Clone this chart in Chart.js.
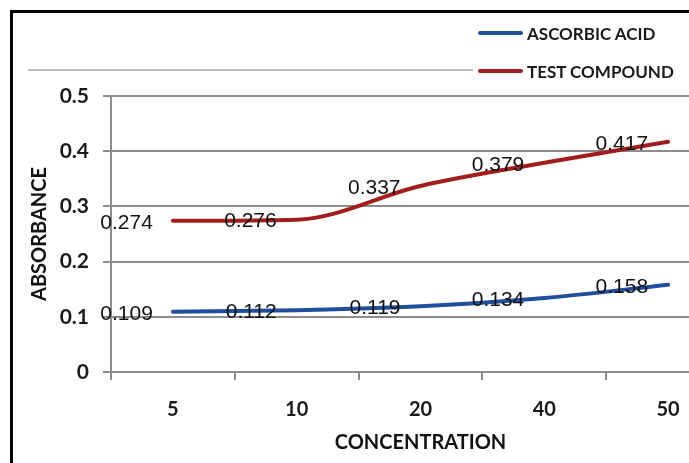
<!DOCTYPE html>
<html>
<head>
<meta charset="utf-8">
<script src="https://cdn.jsdelivr.net/npm/chart.js@4"></script>
<style>
    html, body { margin: 0; padding: 0; background: #fff; overflow: hidden; width: 689px; height: 463px; }
    #wrap { position: absolute; left: 0; top: 0; width: 736px; height: 463px; }
    #frame { position: absolute; left: 10px; top: 10px; width: 800px; height: 600px;
             border-left: 3px solid #000; border-top: 3px solid #000; pointer-events: none; }
    #legend { position: absolute; left: 478px; top: 22px; font: bold 17px Lato, sans-serif; color: #1a1a1a; }
    #legend .row { display: flex; align-items: center; height: 22px; margin-bottom: 16px; white-space: nowrap; }
    #legend .swatch { width: 45px; height: 4px; border-radius: 2px; margin-right: 4px; }
</style>
</head>
<body>
<div id="wrap"><canvas id="chart" width="736" height="463"></canvas></div>
<div id="frame"></div>
<div id="legend"></div>
<script>
// カテゴリ（濃度）
const concentrations = ['5', '10', '20', '40', '50'];

// 系列の値
const ascorbicAcid = [0.109, 0.112, 0.119, 0.134, 0.158];
const testCompound = [0.274, 0.276, 0.337, 0.379, 0.417];

const seriesNames = ['ASCORBIC ACID', 'TEST COMPOUND'];
const seriesColors = ['#1f4e9c', '#a31c1c'];

// 凡例はHTMLで作る
const legendEl = document.getElementById('legend');
seriesNames.forEach((name, i) => {
    const row = document.createElement('div');
    row.className = 'row';
    const sw = document.createElement('span');
    sw.className = 'swatch';
    sw.style.background = seriesColors[i];
    const txt = document.createElement('span');
    txt.textContent = name;
    row.appendChild(sw);
    row.appendChild(txt);
    legendEl.appendChild(row);
});

// データラベル（点の左側に表示）
const valueLabels = {
    id: 'valueLabels',
    afterDatasetsDraw(chart) {
        const ctx = chart.ctx;
        ctx.save();
        ctx.font = '21px "Liberation Sans", Arial, sans-serif';
        ctx.fillStyle = '#111';
        ctx.textAlign = 'right';
        ctx.textBaseline = 'middle';
        chart.data.datasets.forEach((ds, i) => {
            chart.getDatasetMeta(i).data.forEach((pt, j) => {
                ctx.fillText(String(ds.data[j]), pt.x - 20, pt.y + 2);
            });
        });
        ctx.restore();
    }
};

// 凡例横の細い線
const headerLine = {
    id: 'headerLine',
    beforeDraw(chart) {
        const ctx = chart.ctx;
        ctx.save();
        ctx.strokeStyle = '#a6a6a6';
        ctx.lineWidth = 1.5;
        ctx.beginPath();
        ctx.moveTo(28, 70);
        ctx.lineTo(473, 70);
        ctx.stroke();
        ctx.restore();
    }
};

const tickFont = { family: 'Lato, sans-serif', size: 20, weight: 'bold' };
const titleFont = { family: 'Lato, sans-serif', size: 20, weight: 'bold' };

new Chart(document.getElementById('chart'), {
    type: 'line',
    data: {
        labels: concentrations,
        datasets: [
            {
                label: seriesNames[0],
                data: ascorbicAcid,
                borderColor: seriesColors[0],
                borderWidth: 4,
                cubicInterpolationMode: 'monotone',
                pointRadius: 0,
                borderCapStyle: 'round',
            },
            {
                label: seriesNames[1],
                data: testCompound,
                borderColor: seriesColors[1],
                borderWidth: 4,
                cubicInterpolationMode: 'monotone',
                pointRadius: 0,
                borderCapStyle: 'round',
            },
        ],
    },
    options: {
        responsive: false,
        animation: false,
        layout: { padding: { top: 96, left: 0, right: 6, bottom: 0 } },
        plugins: {
            legend: { display: false },
            tooltip: { enabled: false },
        },
        scales: {
            x: {
                offset: true,
                grid: {
                    offset: true,
                    drawOnChartArea: false,
                    drawTicks: true,
                    tickLength: 8,
                    color: '#8c8c8c',
                    lineWidth: 2,
                },
                border: { display: false },
                ticks: { color: '#1a1a1a', font: tickFont, padding: 18, maxRotation: 0 },
                title: {
                    display: true,
                    text: 'CONCENTRATION',
                    color: '#111',
                    font: titleFont,
                    padding: { top: 0, bottom: 8 },
                },
                afterFit: s => { s.height = 91; },
            },
            y: {
                min: 0,
                max: 0.5,
                ticks: { stepSize: 0.1, color: '#1a1a1a', font: { family: 'Lato, sans-serif', size: 21, weight: 'bold' }, padding: 14 },
                grid: { color: '#8c8c8c', lineWidth: 2, tickLength: 8 },
                border: { color: '#8c8c8c', width: 2 },
                title: {
                    display: true,
                    text: 'ABSORBANCE',
                    color: '#111',
                    font: titleFont,
                    padding: { top: 28, bottom: 0 },
                },
                afterFit: s => { s.width = 111; },
            },
        },
    },
    plugins: [valueLabels, headerLine],
});
</script>
</body>
</html>
